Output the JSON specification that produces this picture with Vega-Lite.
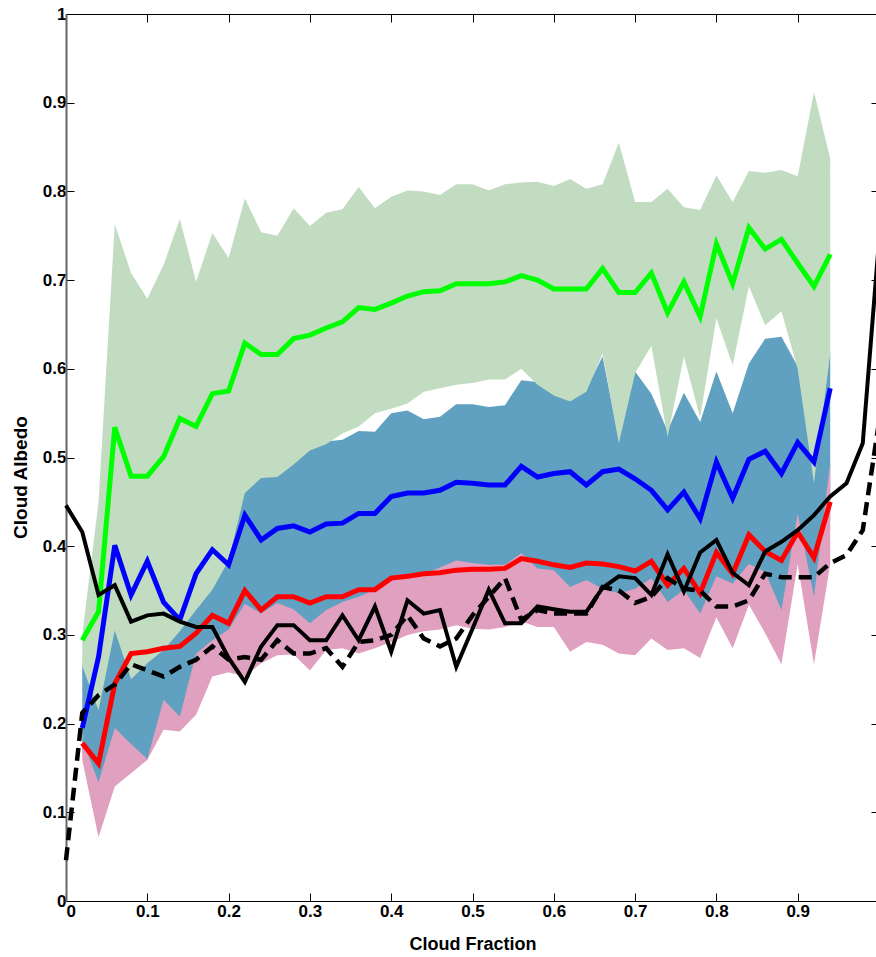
{
  "$schema": "https://vega.github.io/schema/vega-lite/v6.json",
  "width": 813,
  "height": 887,
  "autosize": {"type": "none"},
  "padding": {"left": 66, "top": 14, "right": 0, "bottom": 56},
  "background": "white",
  "datasets": {
    "bands": [
      {"x": 0.02, "gl": 0.265, "gu": 0.30, "gm": 0.294, "bl": 0.17, "bu": 0.27, "bm": 0.195, "pl": 0.159, "pu": 0.182, "rm": 0.178},
      {"x": 0.04, "gl": 0.215, "gu": 0.45, "gm": 0.326, "bl": 0.10, "bu": 0.22, "bm": 0.275, "pl": 0.072, "pu": 0.134, "rm": 0.155},
      {"x": 0.06, "gl": 0.305, "gu": 0.763, "gm": 0.534, "bl": 0.16, "bu": 0.31, "bm": 0.401, "pl": 0.129, "pu": 0.195, "rm": 0.245},
      {"x": 0.08, "gl": 0.25, "gu": 0.708, "gm": 0.479, "bl": 0.16, "bu": 0.26, "bm": 0.345, "pl": 0.144, "pu": 0.177, "rm": 0.279},
      {"x": 0.10, "gl": 0.268, "gu": 0.679, "gm": 0.479, "bl": 0.159, "bu": 0.275, "bm": 0.383, "pl": 0.159, "pu": 0.16, "rm": 0.281},
      {"x": 0.12, "gl": 0.283, "gu": 0.717, "gm": 0.501, "bl": 0.21, "bu": 0.29, "bm": 0.337, "pl": 0.193, "pu": 0.227, "rm": 0.285},
      {"x": 0.14, "gl": 0.304, "gu": 0.769, "gm": 0.544, "bl": 0.20, "bu": 0.31, "bm": 0.317, "pl": 0.191, "pu": 0.208, "rm": 0.287},
      {"x": 0.16, "gl": 0.328, "gu": 0.698, "gm": 0.535, "bl": 0.24, "bu": 0.335, "bm": 0.369, "pl": 0.21, "pu": 0.279, "rm": 0.302},
      {"x": 0.18, "gl": 0.351, "gu": 0.753, "gm": 0.572, "bl": 0.27, "bu": 0.36, "bm": 0.396, "pl": 0.253, "pu": 0.294, "rm": 0.322},
      {"x": 0.20, "gl": 0.384, "gu": 0.725, "gm": 0.575, "bl": 0.28, "bu": 0.39, "bm": 0.379, "pl": 0.258, "pu": 0.306, "rm": 0.313},
      {"x": 0.22, "gl": 0.46, "gu": 0.792, "gm": 0.629, "bl": 0.29, "bu": 0.465, "bm": 0.435, "pl": 0.253, "pu": 0.335, "rm": 0.35},
      {"x": 0.24, "gl": 0.477, "gu": 0.754, "gm": 0.616, "bl": 0.30, "bu": 0.48, "bm": 0.407, "pl": 0.268, "pu": 0.324, "rm": 0.328},
      {"x": 0.26, "gl": 0.478, "gu": 0.75, "gm": 0.616, "bl": 0.31, "bu": 0.485, "bm": 0.42, "pl": 0.277, "pu": 0.336, "rm": 0.343},
      {"x": 0.28, "gl": 0.492, "gu": 0.781, "gm": 0.634, "bl": 0.30, "bu": 0.495, "bm": 0.423, "pl": 0.278, "pu": 0.329, "rm": 0.343},
      {"x": 0.30, "gl": 0.508, "gu": 0.761, "gm": 0.638, "bl": 0.29, "bu": 0.512, "bm": 0.416, "pl": 0.26, "pu": 0.313, "rm": 0.336},
      {"x": 0.32, "gl": 0.515, "gu": 0.776, "gm": 0.646, "bl": 0.30, "bu": 0.518, "bm": 0.425, "pl": 0.283, "pu": 0.328, "rm": 0.343},
      {"x": 0.34, "gl": 0.527, "gu": 0.78, "gm": 0.653, "bl": 0.31, "bu": 0.52, "bm": 0.426, "pl": 0.285, "pu": 0.337, "rm": 0.343},
      {"x": 0.36, "gl": 0.535, "gu": 0.805, "gm": 0.669, "bl": 0.31, "bu": 0.53, "bm": 0.437, "pl": 0.279, "pu": 0.343, "rm": 0.351},
      {"x": 0.38, "gl": 0.55, "gu": 0.781, "gm": 0.667, "bl": 0.32, "bu": 0.529, "bm": 0.437, "pl": 0.285, "pu": 0.351, "rm": 0.351},
      {"x": 0.40, "gl": 0.555, "gu": 0.794, "gm": 0.674, "bl": 0.33, "bu": 0.55, "bm": 0.456, "pl": 0.292, "pu": 0.362, "rm": 0.364},
      {"x": 0.42, "gl": 0.561, "gu": 0.801, "gm": 0.682, "bl": 0.33, "bu": 0.553, "bm": 0.46, "pl": 0.30, "pu": 0.364, "rm": 0.366},
      {"x": 0.44, "gl": 0.574, "gu": 0.80, "gm": 0.687, "bl": 0.34, "bu": 0.543, "bm": 0.46, "pl": 0.304, "pu": 0.369, "rm": 0.369},
      {"x": 0.46, "gl": 0.578, "gu": 0.796, "gm": 0.688, "bl": 0.34, "bu": 0.546, "bm": 0.463, "pl": 0.306, "pu": 0.376, "rm": 0.37},
      {"x": 0.48, "gl": 0.582, "gu": 0.808, "gm": 0.696, "bl": 0.35, "bu": 0.56, "bm": 0.472, "pl": 0.311, "pu": 0.384, "rm": 0.373},
      {"x": 0.50, "gl": 0.584, "gu": 0.808, "gm": 0.696, "bl": 0.34, "bu": 0.56, "bm": 0.471, "pl": 0.307, "pu": 0.381, "rm": 0.374},
      {"x": 0.52, "gl": 0.588, "gu": 0.801, "gm": 0.696, "bl": 0.34, "bu": 0.557, "bm": 0.469, "pl": 0.306, "pu": 0.379, "rm": 0.374},
      {"x": 0.54, "gl": 0.588, "gu": 0.808, "gm": 0.698, "bl": 0.34, "bu": 0.559, "bm": 0.469, "pl": 0.309, "pu": 0.379, "rm": 0.375},
      {"x": 0.56, "gl": 0.60, "gu": 0.81, "gm": 0.705, "bl": 0.35, "bu": 0.587, "bm": 0.49, "pl": 0.315, "pu": 0.392, "rm": 0.386},
      {"x": 0.58, "gl": 0.582, "gu": 0.811, "gm": 0.70, "bl": 0.34, "bu": 0.585, "bm": 0.478, "pl": 0.309, "pu": 0.375, "rm": 0.383},
      {"x": 0.60, "gl": 0.57, "gu": 0.806, "gm": 0.69, "bl": 0.34, "bu": 0.573, "bm": 0.482, "pl": 0.309, "pu": 0.373, "rm": 0.379},
      {"x": 0.62, "gl": 0.563, "gu": 0.814, "gm": 0.69, "bl": 0.32, "bu": 0.566, "bm": 0.484, "pl": 0.281, "pu": 0.354, "rm": 0.376},
      {"x": 0.64, "gl": 0.574, "gu": 0.803, "gm": 0.69, "bl": 0.33, "bu": 0.577, "bm": 0.469, "pl": 0.292, "pu": 0.362, "rm": 0.381},
      {"x": 0.66, "gl": 0.617, "gu": 0.808, "gm": 0.713, "bl": 0.32, "bu": 0.614, "bm": 0.484, "pl": 0.289, "pu": 0.352, "rm": 0.38},
      {"x": 0.68, "gl": 0.516, "gu": 0.855, "gm": 0.686, "bl": 0.31, "bu": 0.52, "bm": 0.487, "pl": 0.279, "pu": 0.347, "rm": 0.377},
      {"x": 0.70, "gl": 0.595, "gu": 0.788, "gm": 0.686, "bl": 0.31, "bu": 0.597, "bm": 0.476, "pl": 0.277, "pu": 0.352, "rm": 0.372},
      {"x": 0.72, "gl": 0.626, "gu": 0.788, "gm": 0.708, "bl": 0.33, "bu": 0.572, "bm": 0.463, "pl": 0.296, "pu": 0.364, "rm": 0.383},
      {"x": 0.74, "gl": 0.523, "gu": 0.803, "gm": 0.663, "bl": 0.31, "bu": 0.53, "bm": 0.441, "pl": 0.283, "pu": 0.337, "rm": 0.356},
      {"x": 0.76, "gl": 0.614, "gu": 0.782, "gm": 0.698, "bl": 0.32, "bu": 0.573, "bm": 0.461, "pl": 0.285, "pu": 0.351, "rm": 0.375},
      {"x": 0.78, "gl": 0.545, "gu": 0.779, "gm": 0.659, "bl": 0.30, "bu": 0.54, "bm": 0.431, "pl": 0.274, "pu": 0.324, "rm": 0.347},
      {"x": 0.80, "gl": 0.657, "gu": 0.818, "gm": 0.741, "bl": 0.34, "bu": 0.597, "bm": 0.495, "pl": 0.32, "pu": 0.366, "rm": 0.393},
      {"x": 0.82, "gl": 0.604, "gu": 0.788, "gm": 0.696, "bl": 0.32, "bu": 0.55, "bm": 0.454, "pl": 0.285, "pu": 0.358, "rm": 0.369},
      {"x": 0.84, "gl": 0.693, "gu": 0.823, "gm": 0.759, "bl": 0.36, "bu": 0.606, "bm": 0.498, "pl": 0.334, "pu": 0.38, "rm": 0.413},
      {"x": 0.86, "gl": 0.649, "gu": 0.821, "gm": 0.735, "bl": 0.34, "bu": 0.634, "bm": 0.507, "pl": 0.302, "pu": 0.371, "rm": 0.394},
      {"x": 0.88, "gl": 0.665, "gu": 0.824, "gm": 0.746, "bl": 0.30, "bu": 0.636, "bm": 0.482, "pl": 0.267, "pu": 0.328, "rm": 0.384},
      {"x": 0.90, "gl": 0.60, "gu": 0.817, "gm": 0.719, "bl": 0.40, "bu": 0.603, "bm": 0.517, "pl": 0.38, "pu": 0.437, "rm": 0.416},
      {"x": 0.92, "gl": 0.471, "gu": 0.912, "gm": 0.693, "bl": 0.30, "bu": 0.48, "bm": 0.495, "pl": 0.267, "pu": 0.343, "rm": 0.387},
      {"x": 0.94, "gl": 0.618, "gu": 0.837, "gm": 0.729, "bl": 0.43, "bu": 0.62, "bm": 0.578, "pl": 0.38, "pu": 0.494, "rm": 0.45}
    ],
    "black": [
      {"x": 0.00, "solid": 0.446, "dashed": 0.046},
      {"x": 0.02, "solid": 0.416, "dashed": 0.212},
      {"x": 0.04, "solid": 0.345, "dashed": 0.232},
      {"x": 0.06, "solid": 0.356, "dashed": 0.244},
      {"x": 0.08, "solid": 0.315, "dashed": 0.267},
      {"x": 0.10, "solid": 0.322, "dashed": 0.260},
      {"x": 0.12, "solid": 0.324, "dashed": 0.253},
      {"x": 0.14, "solid": 0.315, "dashed": 0.264},
      {"x": 0.16, "solid": 0.309, "dashed": 0.272},
      {"x": 0.18, "solid": 0.309, "dashed": 0.287},
      {"x": 0.20, "solid": 0.274, "dashed": 0.272},
      {"x": 0.22, "solid": 0.247, "dashed": 0.275},
      {"x": 0.24, "solid": 0.287, "dashed": 0.272},
      {"x": 0.26, "solid": 0.311, "dashed": 0.294},
      {"x": 0.28, "solid": 0.311, "dashed": 0.279},
      {"x": 0.30, "solid": 0.294, "dashed": 0.279},
      {"x": 0.32, "solid": 0.294, "dashed": 0.285},
      {"x": 0.34, "solid": 0.322, "dashed": 0.264},
      {"x": 0.36, "solid": 0.294, "dashed": 0.292},
      {"x": 0.38, "solid": 0.332, "dashed": 0.294},
      {"x": 0.40, "solid": 0.281, "dashed": 0.300},
      {"x": 0.42, "solid": 0.339, "dashed": 0.322},
      {"x": 0.44, "solid": 0.324, "dashed": 0.296},
      {"x": 0.46, "solid": 0.328, "dashed": 0.287},
      {"x": 0.48, "solid": 0.264, "dashed": 0.296},
      {"x": 0.50, "solid": 0.307, "dashed": 0.322},
      {"x": 0.52, "solid": 0.351, "dashed": 0.343},
      {"x": 0.54, "solid": 0.313, "dashed": 0.364},
      {"x": 0.56, "solid": 0.313, "dashed": 0.317},
      {"x": 0.58, "solid": 0.332, "dashed": 0.328},
      {"x": 0.60, "solid": 0.329, "dashed": 0.324},
      {"x": 0.62, "solid": 0.326, "dashed": 0.324},
      {"x": 0.64, "solid": 0.326, "dashed": 0.324},
      {"x": 0.66, "solid": 0.353, "dashed": 0.354},
      {"x": 0.68, "solid": 0.366, "dashed": 0.350},
      {"x": 0.70, "solid": 0.364, "dashed": 0.336},
      {"x": 0.72, "solid": 0.345, "dashed": 0.343},
      {"x": 0.74, "solid": 0.391, "dashed": 0.364},
      {"x": 0.76, "solid": 0.349, "dashed": 0.352},
      {"x": 0.78, "solid": 0.393, "dashed": 0.350},
      {"x": 0.80, "solid": 0.407, "dashed": 0.332},
      {"x": 0.82, "solid": 0.370, "dashed": 0.332},
      {"x": 0.84, "solid": 0.356, "dashed": 0.339},
      {"x": 0.86, "solid": 0.394, "dashed": 0.369},
      {"x": 0.88, "solid": 0.405, "dashed": 0.365},
      {"x": 0.90, "solid": 0.418, "dashed": 0.365},
      {"x": 0.92, "solid": 0.435, "dashed": 0.365},
      {"x": 0.94, "solid": 0.456, "dashed": 0.381},
      {"x": 0.96, "solid": 0.471, "dashed": 0.390},
      {"x": 0.98, "solid": 0.516, "dashed": 0.418},
      {"x": 1.00, "solid": 0.745, "dashed": 0.54}
    ]
  },
  "resolve": {"axis": {"x": "independent", "y": "independent"}},
  "layer": [
    {
      "data": {"name": "bands"},
      "mark": {"type": "area", "color": "#60a0c0", "opacity": 1},
      "encoding": {
        "x": {
          "field": "x", "type": "quantitative",
          "scale": {"domain": [0, 1], "nice": false},
          "axis": {
            "orient": "bottom",
            "values": [0, 0.1, 0.2, 0.3, 0.4, 0.5, 0.6, 0.7, 0.8, 0.9],
            "format": ".1~f",
            "labelPadding": 10,
            "title": "Cloud Fraction",
            "titleFontSize": 18,
            "titlePadding": 16
          }
        },
        "y": {
          "field": "bl", "type": "quantitative",
          "scale": {"domain": [0, 1], "nice": false},
          "axis": {
            "orient": "left",
            "values": [0, 0.1, 0.2, 0.3, 0.4, 0.5, 0.6, 0.7, 0.8, 0.9, 1],
            "format": ".1~f",
            "labelPadding": 8,
            "title": "Cloud Albedo",
            "titleFontSize": 19,
            "titlePadding": 12,
            "titleY": 463,
            "domainColor": "#666666",
            "domainWidth": 2
          }
        },
        "y2": {"field": "bu"}
      }
    },
    {
      "data": {"name": "bands"},
      "mark": {"type": "area", "color": "#c1dcc1", "opacity": 1},
      "encoding": {
        "x": {"field": "x", "type": "quantitative", "axis": null},
        "y": {"field": "gl", "type": "quantitative", "axis": null},
        "y2": {"field": "gu"}
      }
    },
    {
      "data": {"name": "bands"},
      "mark": {"type": "area", "color": "#e0a0c0", "opacity": 1},
      "encoding": {
        "x": {"field": "x", "type": "quantitative", "axis": null},
        "y": {"field": "pl", "type": "quantitative", "axis": null},
        "y2": {"field": "pu"}
      }
    },
    {
      "data": {"name": "bands"},
      "mark": {"type": "line", "color": "#00ff00", "strokeWidth": 5},
      "encoding": {
        "x": {"field": "x", "type": "quantitative", "axis": null},
        "y": {"field": "gm", "type": "quantitative", "axis": null}
      }
    },
    {
      "data": {"name": "bands"},
      "mark": {"type": "line", "color": "#0000ff", "strokeWidth": 5},
      "encoding": {
        "x": {"field": "x", "type": "quantitative", "axis": null},
        "y": {"field": "bm", "type": "quantitative", "axis": null}
      }
    },
    {
      "data": {"name": "bands"},
      "mark": {"type": "line", "color": "#ff0000", "strokeWidth": 5},
      "encoding": {
        "x": {"field": "x", "type": "quantitative", "axis": null},
        "y": {"field": "rm", "type": "quantitative", "axis": null}
      }
    },
    {
      "data": {"name": "black"},
      "mark": {"type": "line", "color": "black", "strokeWidth": 4},
      "encoding": {
        "x": {"field": "x", "type": "quantitative", "axis": null},
        "y": {"field": "solid", "type": "quantitative", "axis": null}
      }
    },
    {
      "data": {"name": "black"},
      "mark": {"type": "line", "color": "black", "strokeWidth": 4.5, "strokeDash": [13, 7]},
      "encoding": {
        "x": {
          "field": "x", "type": "quantitative",
          "axis": {"orient": "top", "values": [0, 0.1, 0.2, 0.3, 0.4, 0.5, 0.6, 0.7, 0.8, 0.9], "labels": false, "title": null, "domain": false}
        },
        "y": {
          "field": "dashed", "type": "quantitative",
          "axis": {"orient": "right", "values": [0, 0.1, 0.2, 0.3, 0.4, 0.5, 0.6, 0.7, 0.8, 0.9, 1], "labels": false, "title": null, "domain": false}
        }
      }
    }
  ],
  "config": {
    "view": {"stroke": "black", "strokeWidth": 1},
    "axis": {
      "grid": false,
      "tickSize": -8,
      "tickColor": "black",
      "tickWidth": 1,
      "domainColor": "black",
      "labelFont": "Liberation Sans",
      "labelFontWeight": "bold",
      "labelFontSize": 17,
      "labelColor": "black",
      "titleFont": "Liberation Sans",
      "titleFontWeight": "bold",
      "titleColor": "black"
    }
  }
}
